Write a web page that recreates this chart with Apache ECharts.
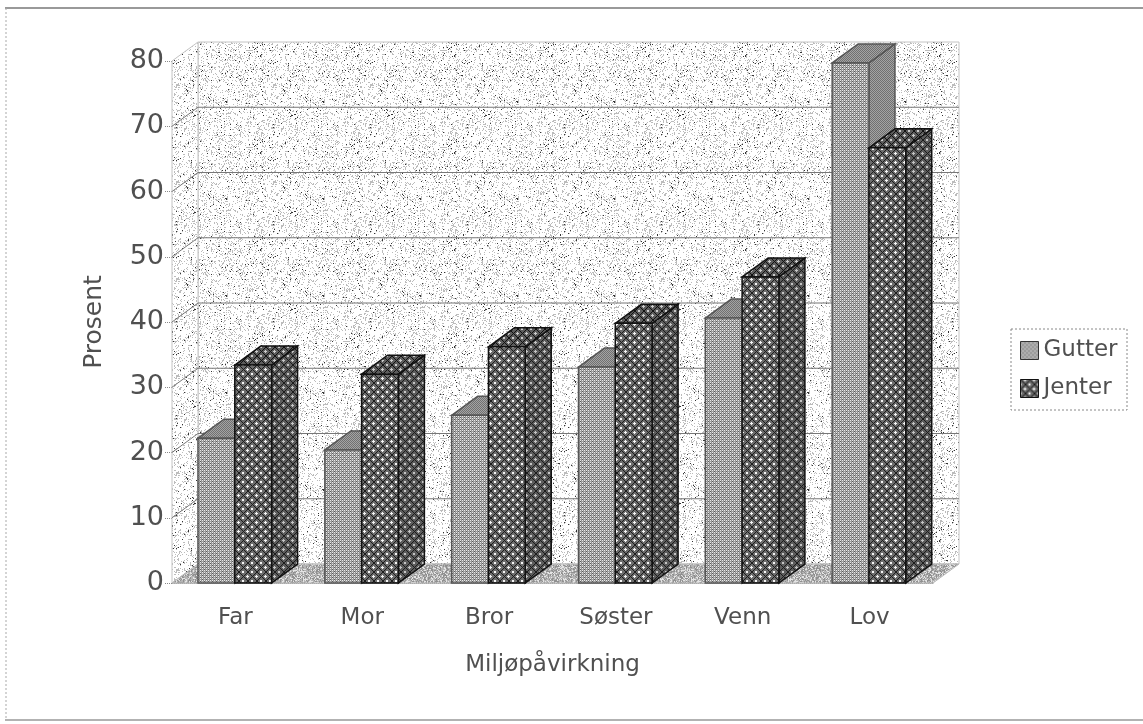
<!DOCTYPE html>
<html>
<head>
<meta charset="utf-8">
<style>html,body{margin:0;padding:0;background:#fff}#chart{width:1143px;height:724px}</style>
<script src="https://cdn.jsdelivr.net/npm/echarts@6/dist/echarts.min.js"></script>
</head>
<body>
<div id="chart"></div>
<script>
const categories = ['Far', 'Mor', 'Bror', 'Søster', 'Venn', 'Lov'];
const gutter = [22.2, 20.4, 25.7, 33.1, 40.6, 79.7];
const jenter = [33.4, 32, 36.2, 39.8, 46.9, 66.7];
const gridValues = [0, 10, 20, 30, 40, 50, 60, 70, 80];

// 3d look: fixed pixel offset of the back wall
const DEPTH_X = 26, DEPTH_Y = -19;
const BAR_GAP = 0.205, BAR_W = 0.29;

function tile(size, paint) {
  const cv = document.createElement('canvas');
  cv.width = cv.height = size;
  const c = cv.getContext('2d');
  for (let y = 0; y < size; y++) {
    for (let x = 0; x < size; x++) {
      const col = paint(x, y);
      if (col) { c.fillStyle = col; c.fillRect(x, y, 1, 1); }
    }
  }
  return { image: cv, repeat: 'repeat' };
}

// fixed stipple, the scan's halftone
let seed = 12345;
const wallFill = tile(97, () => {
  seed = (seed * 1103515245 + 12345) % 2147483648;
  const h = Math.floor(seed / 65536) % 100;
  if (h < 2) return '#333';
  if (h < 20) return '#bcbcbc';
  return '#fff';
});
const floorFill = tile(97, () => {
  seed = (seed * 1103515245 + 12345) % 2147483648;
  const h = Math.floor(seed / 65536) % 100;
  return h < 30 ? '#909090' : h < 75 ? '#b4b4b4' : '#e4e4e4';
});
const gutterFill = tile(8, (x, y) => {
  if (y % 2 === 0) return x % 2 === 0 ? '#e8e8e8' : '#8c8c8c';
  return (x + y) % 4 === 1 ? '#5c5c5c' : '#a0a0a0';
});
const gutterTop = tile(4, (x, y) => ((x + y) % 2 === 0 ? '#707070' : '#a4a4a4'));
function hatch(white, mid, line) {
  return tile(9, (x, y) => {
    const u = (x + y) % 9, v = (x - y + 9) % 9;
    if (u === 0 || v === 0) return line;
    if (u >= 3 && u <= 5 && v >= 3 && v <= 5) return white;
    return mid;
  });
}
const jenterFill = hatch('#f4f4f4', '#6c6c6c', '#1c1c1c');
const jenterSide = hatch('#c4c4c4', '#5c5c5c', '#1c1c1c');
const jenterTop = hatch('#ccc', '#5c5c5c', '#111');

function poly(points, fill, stroke, lineWidth) {
  return {
    type: 'polygon',
    shape: { points: points },
    style: { fill: fill, stroke: stroke, lineWidth: lineWidth }
  };
}

function renderWalls(params, api) {
  const last = gridValues[gridValues.length - 1];
  const x0 = api.coord([0, 0])[0] - api.size([1, 0])[0] / 2;
  const x1 = api.coord([categories.length - 1, 0])[0] + api.size([1, 0])[0] / 2;
  const y0 = api.coord([0, 0])[1];
  const yTop = api.coord([0, last])[1];
  const children = [
    poly([[x0 + DEPTH_X, y0 + DEPTH_Y], [x1 + DEPTH_X, y0 + DEPTH_Y], [x1 + DEPTH_X, yTop + DEPTH_Y], [x0 + DEPTH_X, yTop + DEPTH_Y]], wallFill, '#c4c4c4', 1),
    poly([[x0, y0], [x0 + DEPTH_X, y0 + DEPTH_Y], [x0 + DEPTH_X, yTop + DEPTH_Y], [x0, yTop]], wallFill, '#c4c4c4', 1),
    poly([[x0, y0], [x1, y0], [x1 + DEPTH_X, y0 + DEPTH_Y], [x0 + DEPTH_X, y0 + DEPTH_Y]], floorFill, '#bbb', 1)
  ];
  gridValues.slice(1, -1).forEach(v => {
    const y = api.coord([0, v])[1];
    children.push({
      type: 'polyline',
      shape: { points: [[x0, y], [x0 + DEPTH_X, y + DEPTH_Y], [x1 + DEPTH_X, y + DEPTH_Y]] },
      style: { fill: null, stroke: '#777', lineWidth: 1 }
    });
  });
  return { type: 'group', children: children };
}

function renderBar(slot, front, side, top, edge) {
  return function (params, api) {
    const cat = api.value(0);
    const band = api.size([1, 0])[0];
    const base = api.coord([cat, 0]);
    const head = api.coord([cat, api.value(1)]);
    const l = base[0] - band / 2 + band * (BAR_GAP + slot * BAR_W);
    const r = l + band * BAR_W;
    const d = [DEPTH_X, DEPTH_Y];
    return {
      type: 'group',
      children: [
        poly([[r, head[1]], [r + d[0], head[1] + d[1]], [r + d[0], base[1] + d[1]], [r, base[1]]], side, edge, 1.5),
        poly([[l, head[1]], [l + d[0], head[1] + d[1]], [r + d[0], head[1] + d[1]], [r, head[1]]], top, edge, 1.5),
        poly([[l, head[1]], [r, head[1]], [r, base[1]], [l, base[1]]], front, edge, 1.5)
      ]
    };
  };
}

const textColor = '#505050';
const fontFamily = 'DejaVu Sans';

const chart = echarts.init(document.getElementById('chart'), null, { renderer: 'canvas' });
chart.setOption({
  animation: false,
  backgroundColor: '#fff',
  grid: { left: 172, top: 61, width: 761, height: 522 },
  xAxis: {
    type: 'category',
    data: categories,
    name: 'Miljøpåvirkning',
    nameLocation: 'center',
    nameGap: 71,
    nameTextStyle: { color: textColor, fontSize: 23, fontFamily: fontFamily },
    axisLine: { lineStyle: { color: '#999', type: 'dotted' } },
    axisTick: { length: 7, lineStyle: { color: '#888', type: 'dotted' } },
    axisLabel: { color: textColor, fontSize: 23, fontFamily: fontFamily, margin: 24 }
  },
  yAxis: {
    type: 'value',
    min: 0,
    max: 80,
    interval: 10,
    name: 'Prosent',
    nameLocation: 'center',
    nameGap: 65,
    nameTextStyle: { color: textColor, fontSize: 25, fontFamily: fontFamily },
    axisLine: { show: true, lineStyle: { color: '#999', type: 'dotted' } },
    axisTick: { show: true, length: 7, lineStyle: { color: '#888', type: 'dotted' } },
    axisLabel: { color: textColor, fontSize: 27, fontFamily: fontFamily, margin: 8 },
    splitLine: { show: false }
  },
  legend: {
    left: 1011,
    top: 329,
    orient: 'vertical',
    padding: [10, 8, 10, 9],
    itemGap: 15,
    itemWidth: 18,
    itemHeight: 18,
    textStyle: { color: textColor, fontSize: 23, fontFamily: fontFamily },
    data: [
      { name: 'Gutter', icon: 'rect', itemStyle: { color: gutterFill, borderColor: '#333', borderWidth: 1 } },
      { name: 'Jenter', icon: 'rect', itemStyle: { color: jenterFill, borderColor: '#111', borderWidth: 1 } }
    ]
  },
  series: [
    {
      type: 'custom', name: 'walls', z: 1, silent: true,
      renderItem: renderWalls,
      data: [[0, 0]],
      clip: false
    },
    {
      type: 'custom', name: 'Gutter', z: 2,
      renderItem: renderBar(0, gutterFill, gutterTop, gutterTop, '#555'),
      encode: { x: 0, y: 1 },
      data: gutter.map((v, i) => [i, v]),
      clip: false
    },
    {
      type: 'custom', name: 'Jenter', z: 3,
      renderItem: renderBar(1, jenterFill, jenterSide, jenterTop, '#111'),
      encode: { x: 0, y: 1 },
      data: jenter.map((v, i) => [i, v]),
      clip: false
    }
  ],
  graphic: [
    { type: 'line', shape: { x1: 5, y1: 8, x2: 1143, y2: 8 }, style: { stroke: '#777', lineWidth: 1.5 }, silent: true },
    { type: 'line', shape: { x1: 6, y1: 8, x2: 6, y2: 720 }, style: { stroke: '#aaa', lineWidth: 1, lineDash: [2, 2] }, silent: true },
    { type: 'line', shape: { x1: 5, y1: 720, x2: 1143, y2: 720 }, style: { stroke: '#999', lineWidth: 1.5 }, silent: true },
    { type: 'rect', shape: { x: 1011, y: 329, width: 116, height: 81 }, style: { fill: null, stroke: '#888', lineWidth: 1, lineDash: [2, 2] }, silent: true }
  ]
});
</script>
</body>
</html>
